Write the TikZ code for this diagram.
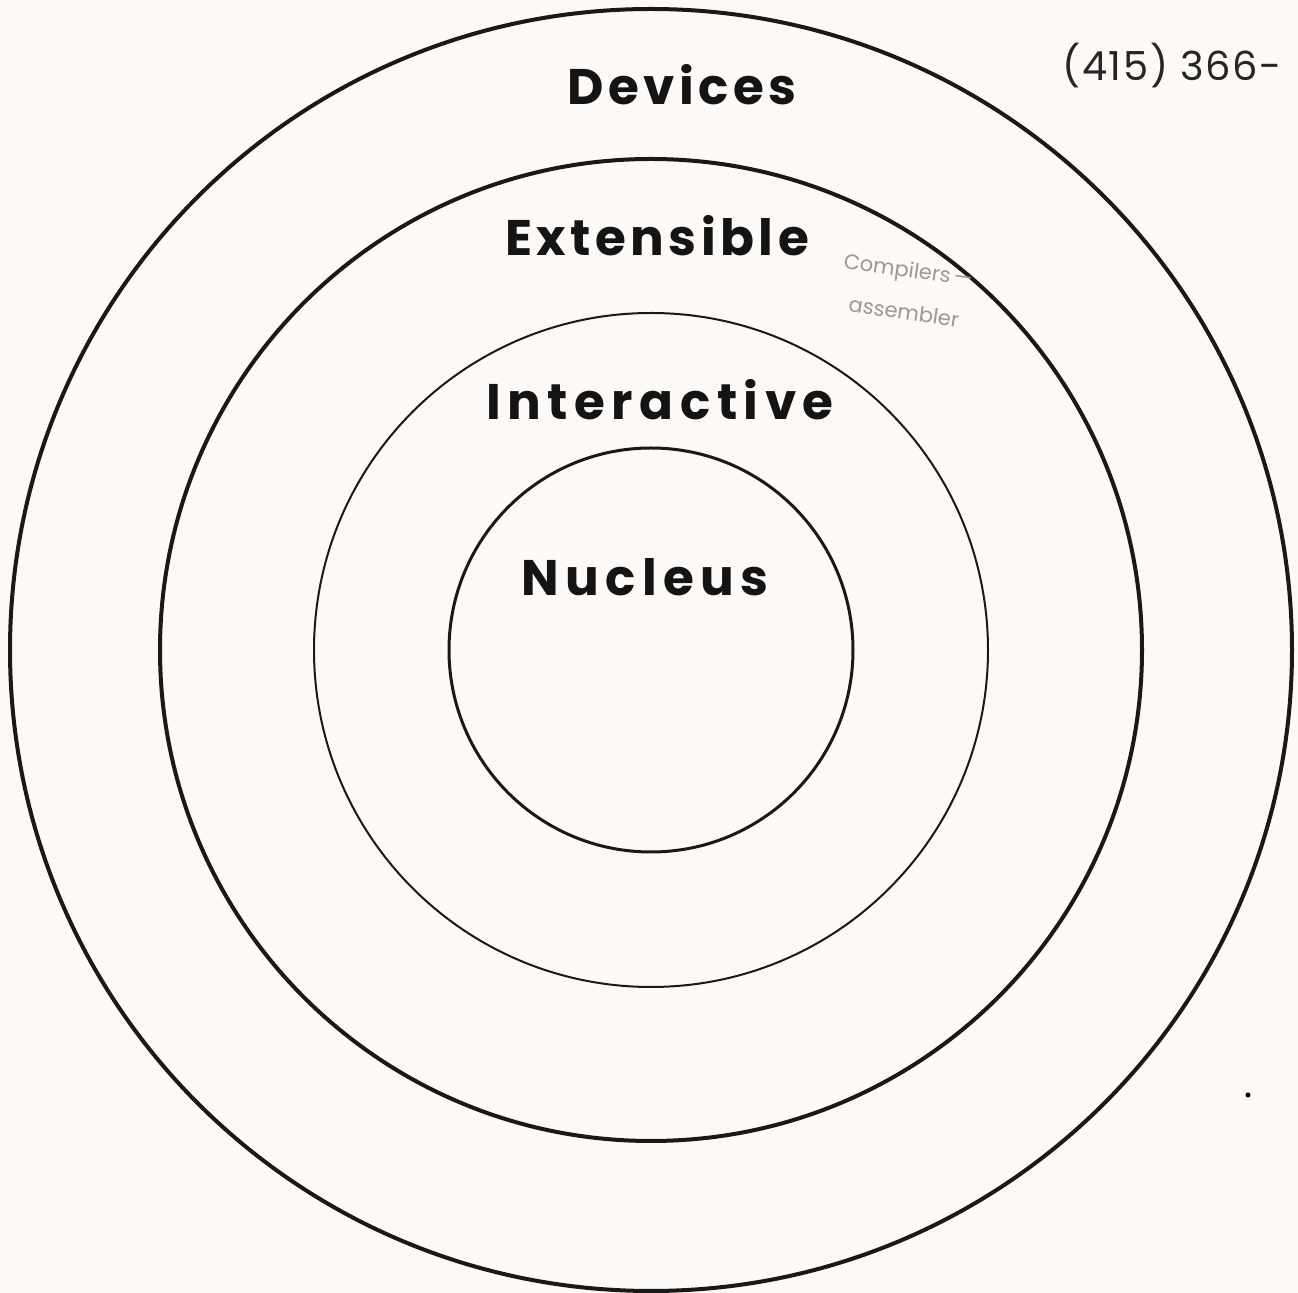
\documentclass[tikz,border=0pt]{standalone}
\usepackage{fontspec}
\setmainfont{Poppins}
\begin{document}
\begin{tikzpicture}[x=0.5pt,y=-0.5pt,
  ring/.style={draw=black!90,line width=#1},
  layerlabel/.style={font=\fontsize{25}{28}\selectfont\bfseries\addfontfeatures{LetterSpace=#1},text=black!92,inner sep=0pt},
  layerlabel/.default=9,
  notetext/.style={font=\fontsize{20}{24}\selectfont\addfontfeatures{LetterSpace=4},text=black!85,inner sep=0pt},
  pencil/.style={font=\fontsize{10.5}{12}\selectfont,text=black!40,inner sep=0pt,rotate=-8}]
\definecolor{paper}{RGB}{252,249,246}
\fill[paper] (0,0) rectangle (1298,1293);
\useasboundingbox (0,0) rectangle (1298,1293);
\coordinate (c) at (651,650);
\draw[ring=2pt] (c) circle[radius=641];
\draw[ring=2pt] (c) circle[radius=491];
\draw[ring=1pt] (c) circle[radius=337];
\draw[ring=1.5pt] (c) circle[radius=202];
\node[layerlabel] (dev) at (682,85) {Devices};
\node[layerlabel] (ext) at (657,236) {Extensible};
\node[layerlabel=13] (int) at (660,400) {Interactive};
\node[layerlabel=13] (nuc) at (645,577) {Nucleus};
\node[notetext] (phone) at (1172,66) {(415) 366-};
\node[pencil] (note1) at (908,272) {Compilers\,—};
\node[pencil] (note2) at (904,312) {assembler};
\fill[black] (1248,1095) circle[radius=2.5];
\end{tikzpicture}
\end{document}
